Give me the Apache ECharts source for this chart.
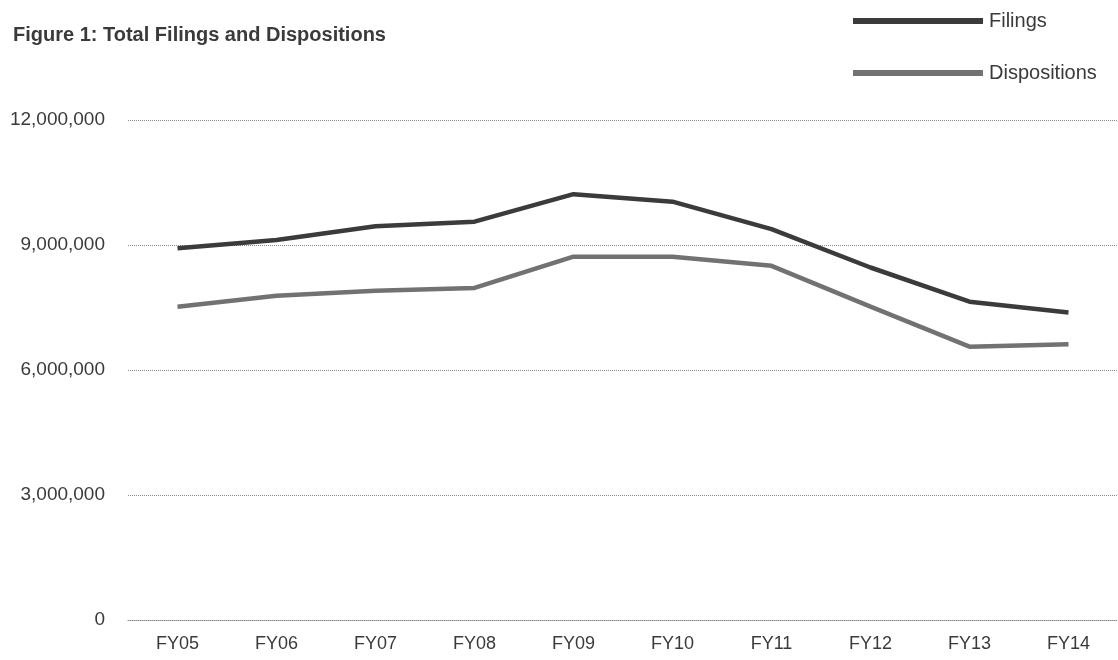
<!DOCTYPE html>
<html>
<head>
<meta charset="utf-8">
<script src="https://cdn.jsdelivr.net/npm/echarts@6/dist/echarts.min.js"></script>
<style>html,body{margin:0;padding:0;background:#fff;}#c{width:1118px;height:660px;}</style>
</head>
<body>
<div id="c"></div>
<script>
const categories = ['FY05','FY06','FY07','FY08','FY09','FY10','FY11','FY12','FY13','FY14'];
const filings = [8920000, 9120000, 9450000, 9560000, 10220000, 10040000, 9380000, 8460000, 7640000, 7380000];
const dispositions = [7520000, 7780000, 7900000, 7970000, 8720000, 8720000, 8500000, 7520000, 6560000, 6620000];
const yTicks = [0, 3000000, 6000000, 9000000, 12000000];

const chart = echarts.init(document.getElementById('c'));
const font = 'Liberation Sans, Arial, sans-serif';
chart.setOption({
  animation: false,
  title: {
    text: 'Figure 1: Total Filings and Dispositions',
    left: 8, top: 20,
    textStyle: { fontFamily: font, fontSize: 20, fontWeight: 'bold', color: '#3a3a3a' }
  },
  legend: {
    orient: 'vertical',
    left: 848, top: 6,
    itemWidth: 130, itemHeight: 6, itemGap: 32,
    icon: 'rect',
    textStyle: { fontFamily: font, fontSize: 20, color: '#3a3a3a', padding: [0,0,0,1] },
    data: ['Filings', 'Dispositions']
  },
  grid: { left: 128, right: 0, top: 120, bottom: 40, containLabel: false },
  xAxis: {
    type: 'category',
    data: categories,
    boundaryGap: true,
    axisLine: { show: true, lineStyle: { color: '#8a8a8a', type: 'dotted', width: 1 } },
    axisTick: { show: false },
    axisLabel: { fontFamily: font, fontSize: 18, color: '#3a3a3a', margin: 15 }
  },
  yAxis: {
    type: 'value',
    min: 0, max: 12000000, interval: 3000000,
    axisLine: { show: false },
    axisTick: { show: false },
    splitLine: { lineStyle: { color: '#8a8a8a', type: 'dotted', width: 1 } },
    axisLabel: {
      fontFamily: font, fontSize: 19, color: '#3a3a3a', margin: 23,
      formatter: v => yTicks.includes(v) ? v.toLocaleString('en-US') : ''
    }
  },
  series: [
    { name: 'Filings', type: 'line', data: filings, symbol: 'none',
      lineStyle: { color: '#3b3b3b', width: 4.5 }, itemStyle: { color: '#3b3b3b' } },
    { name: 'Dispositions', type: 'line', data: dispositions, symbol: 'none',
      lineStyle: { color: '#727272', width: 4.5 }, itemStyle: { color: '#727272' } }
  ]
});
</script>
</body>
</html>
